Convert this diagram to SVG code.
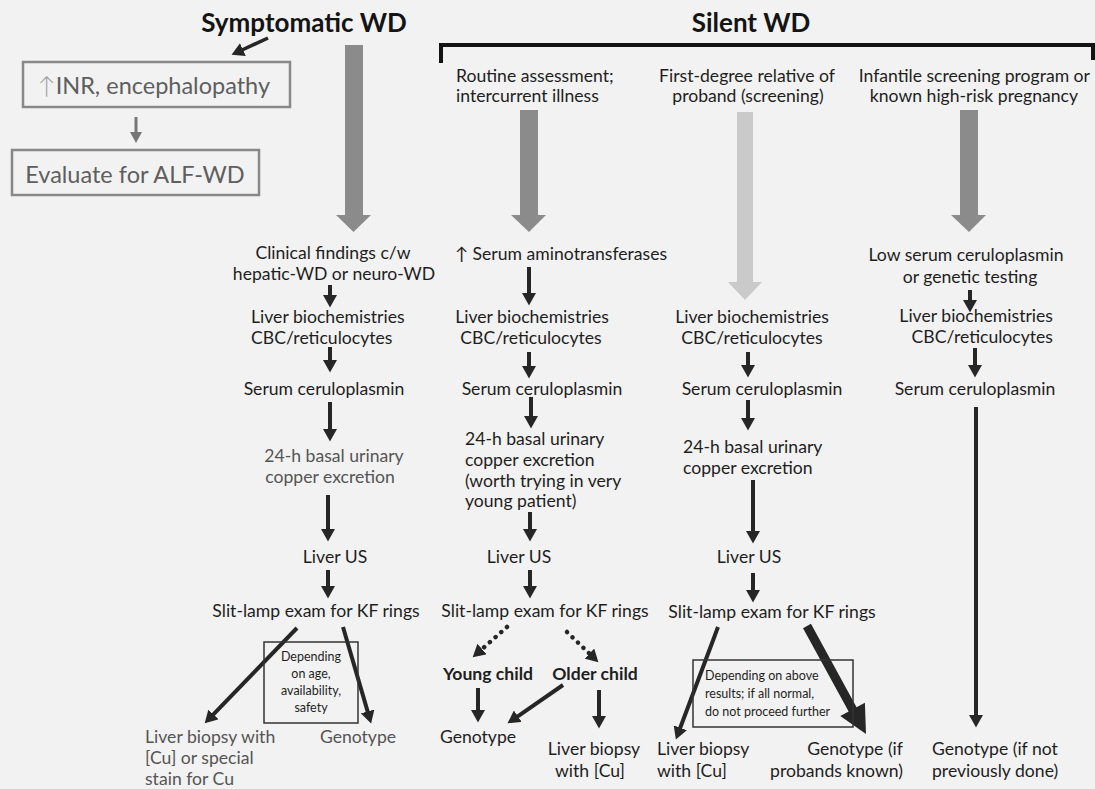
<svg xmlns="http://www.w3.org/2000/svg" width="1095" height="789" viewBox="0 0 1095 789">
<defs>
<style>
text{font-family:Lato,"Liberation Sans",sans-serif;font-size:17.6px;fill:#1e1e1e}
.t{font-size:26px;font-weight:bold;fill:#141414}
.bx{font-size:23.5px;fill:#5e5e5e}
.g{fill:#555}
.b{font-weight:bold}
.sm{font-size:12.5px}
.m{text-anchor:middle}
.e{text-anchor:end}
.ln{stroke:#262626;stroke-width:4;fill:none}
.dot{stroke:#262626;stroke-width:4.5;fill:none;stroke-linecap:round;stroke-dasharray:0.1 7.5}
.big{fill:#8b8b8b}
.light{fill:#cacaca}
.box{fill:none;stroke:#888;stroke-width:2.5}
.nb{fill:none;stroke:#333;stroke-width:1.5}
</style>
<marker id="ah" markerUnits="userSpaceOnUse" markerWidth="13" markerHeight="14" refX="1" refY="7" orient="auto">
<path d="M0,0 L12.5,7 L0,14 z" fill="#262626"/>
</marker>
<marker id="ahg" markerUnits="userSpaceOnUse" markerWidth="12" markerHeight="12" refX="1" refY="6" orient="auto">
<path d="M0,0 L11,6 L0,12 z" fill="#777"/>
</marker>
</defs>
<rect width="1095" height="789" fill="#f2f2f2"/>

<g id="connectors">
<line x1="268" y1="38" x2="242" y2="50" class="ln" style="stroke-width:3.5" marker-end="url(#ah)"/>
<line x1="136" y1="117" x2="136" y2="133" stroke="#777" stroke-width="3" marker-end="url(#ahg)"/>
<path d="M441,63 L441,45 L1093,45 L1093,60" fill="none" stroke="#141414" stroke-width="4"/>
<path class="big" d="M345,45 H363 V215 H371 L353.5,232 L336,215 H345 Z"/>
<path class="big" d="M520,110 H538 V215 H546 L529,232 L511,215 H520 Z"/>
<path class="light" d="M737,112 H753 V282 H762 L745,300 L728,282 H737 Z"/>
<path class="big" d="M960,110 H978 V215 H986 L969,232 L951,215 H960 Z"/>
<line x1="330" y1="285" x2="330" y2="296" class="ln" marker-end="url(#ah)"/>
<line x1="330" y1="347" x2="330" y2="361" class="ln" marker-end="url(#ah)"/>
<line x1="330" y1="402" x2="330" y2="430" class="ln" marker-end="url(#ah)"/>
<line x1="328" y1="495" x2="328" y2="530" class="ln" marker-end="url(#ah)"/>
<line x1="328" y1="570" x2="328" y2="587" class="ln" marker-end="url(#ah)"/>
<line x1="297" y1="628" x2="212.7" y2="715.1" class="ln" marker-end="url(#ah)"/>
<line x1="343" y1="627" x2="367.9" y2="712.4" class="ln" marker-end="url(#ah)"/>
<line x1="529" y1="267" x2="529" y2="294" class="ln" marker-end="url(#ah)"/>
<line x1="529" y1="352" x2="529" y2="367" class="ln" marker-end="url(#ah)"/>
<line x1="531" y1="397" x2="531" y2="417" class="ln" marker-end="url(#ah)"/>
<line x1="530" y1="512" x2="530" y2="530" class="ln" marker-end="url(#ah)"/>
<line x1="530" y1="570" x2="530" y2="587" class="ln" marker-end="url(#ah)"/>
<line x1="507" y1="627" x2="481.3" y2="649.7" class="dot" marker-end="url(#ah)"/>
<line x1="567" y1="632" x2="590.1" y2="654.3" class="dot" marker-end="url(#ah)"/>
<line x1="478" y1="688" x2="478" y2="711" class="ln" marker-end="url(#ah)"/>
<line x1="563" y1="685" x2="517" y2="716.8" class="ln" marker-end="url(#ah)"/>
<line x1="599" y1="690" x2="599" y2="717" class="ln" marker-end="url(#ah)"/>
<line x1="748" y1="352" x2="748" y2="366" class="ln" marker-end="url(#ah)"/>
<line x1="748" y1="400" x2="748" y2="419" class="ln" marker-end="url(#ah)"/>
<line x1="753" y1="480" x2="753" y2="532" class="ln" marker-end="url(#ah)"/>
<line x1="753" y1="573" x2="753" y2="591" class="ln" marker-end="url(#ah)"/>
<line x1="718" y1="627" x2="679.9" y2="728.7" class="ln" marker-end="url(#ah)"/>
<path d="M810.95,623.84 L856.55,707.24 L864.9,702.7 L866,734 L840.3,716.1 L848.65,711.56 L803.05,628.16 Z" fill="#262626"/>
<line x1="970" y1="290" x2="970" y2="301" class="ln" marker-end="url(#ah)"/>
<line x1="975" y1="348" x2="975" y2="366" class="ln" marker-end="url(#ah)"/>
<line x1="976" y1="407" x2="976" y2="716" class="ln" marker-end="url(#ah)"/>
</g>

<g id="title-symptomatic"><text x="304" y="32" class="t m">Symptomatic WD</text></g>
<g id="title-silent"><text x="751" y="32" class="t m">Silent WD</text></g>

<g id="box-inr">
<rect x="23" y="62" width="267" height="45" class="box"/>
<text x="38" y="94" class="bx"><tspan fill="#999" font-weight="300">↑</tspan>INR, encephalopathy</text>
</g>
<g id="box-alf">
<rect x="12" y="150" width="247" height="45" class="box"/>
<text x="135" y="183" class="bx m">Evaluate for ALF-WD</text>
</g>

<g id="c1-clinical"><text x="333" y="259" class="m">Clinical findings c/w</text><text x="334" y="280" class="m">hepatic-WD or neuro-WD</text></g>
<g id="c1-liver"><text x="251" y="323">Liver biochemistries</text><text x="251" y="344">CBC/reticulocytes</text></g>
<g id="c1-cerulo"><text x="324" y="395" class="m">Serum ceruloplasmin</text></g>
<g id="c1-urinary"><text x="334" y="462" class="m g">24-h basal urinary</text><text x="330" y="483" class="m g">copper excretion</text></g>
<g id="c1-us"><text x="335" y="563" class="m">Liver US</text></g>
<g id="c1-slit"><text x="316" y="617" class="m">Slit-lamp exam for KF rings</text></g>
<g id="c1-note">
<rect x="264" y="642" width="94" height="81" class="nb"/>
<text x="311" y="661" class="m sm">Depending</text>
<text x="311" y="678" class="m sm">on age,</text>
<text x="311" y="695" class="m sm">availability,</text>
<text x="311" y="712" class="m sm">safety</text>
</g>
<g id="c1-biopsy"><text x="145" y="743" class="g">Liver biopsy with</text><text x="145" y="764" class="g">[Cu] or special</text><text x="145" y="785" class="g">stain for Cu</text></g>
<g id="c1-genotype"><text x="358" y="743" class="m g">Genotype</text></g>

<g id="c2-head"><text x="456" y="82">Routine assessment;</text><text x="456" y="102">intercurrent illness</text></g>
<g id="c2-amino"><text x="561" y="260" class="m">↑ Serum aminotransferases</text></g>
<g id="c2-liver"><text x="532" y="323" class="m">Liver biochemistries</text><text x="531" y="344" class="m">CBC/reticulocytes</text></g>
<g id="c2-cerulo"><text x="542" y="395" class="m">Serum ceruloplasmin</text></g>
<g id="c2-urinary"><text x="465" y="445">24-h basal urinary</text><text x="465" y="466">copper excretion</text><text x="465" y="487">(worth trying in very</text><text x="465" y="507">young patient)</text></g>
<g id="c2-us"><text x="519" y="563" class="m">Liver US</text></g>
<g id="c2-slit"><text x="545" y="617" class="m">Slit-lamp exam for KF rings</text></g>
<g id="c2-young"><text x="488" y="680" class="m b">Young child</text></g>
<g id="c2-older"><text x="595" y="680" class="m b">Older child</text></g>
<g id="c2-genotype"><text x="478" y="743" class="m">Genotype</text></g>
<g id="c2-biopsy"><text x="594" y="755" class="m">Liver biopsy</text><text x="590" y="777" class="m">with [Cu]</text></g>

<g id="c3-head"><text x="747" y="82" class="m">First-degree relative of</text><text x="748" y="102" class="m">proband (screening)</text></g>
<g id="c3-liver"><text x="752" y="323" class="m">Liver biochemistries</text><text x="752" y="344" class="m">CBC/reticulocytes</text></g>
<g id="c3-cerulo"><text x="762" y="395" class="m">Serum ceruloplasmin</text></g>
<g id="c3-urinary"><text x="683" y="453">24-h basal urinary</text><text x="683" y="474">copper excretion</text></g>
<g id="c3-us"><text x="749" y="563" class="m">Liver US</text></g>
<g id="c3-slit"><text x="772" y="618" class="m">Slit-lamp exam for KF rings</text></g>
<g id="c3-note">
<rect x="693" y="660" width="160" height="67" class="nb"/>
<text x="705" y="680" class="sm">Depending on above</text>
<text x="705" y="698" class="sm">results; if all normal,</text>
<text x="705" y="716" class="sm">do not proceed further</text>
</g>
<g id="c3-biopsy"><text x="657" y="755">Liver biopsy</text><text x="657" y="777">with [Cu]</text></g>
<g id="c3-genotype"><text x="903" y="755" class="e">Genotype (if</text><text x="903" y="777" class="e">probands known)</text></g>

<g id="c4-head"><text x="1090" y="82" class="e">Infantile screening program or</text><text x="1078" y="102" class="e">known high-risk pregnancy</text></g>
<g id="c4-low"><text x="966" y="261" class="m">Low serum ceruloplasmin</text><text x="970" y="283" class="m">or genetic testing</text></g>
<g id="c4-liver"><text x="1053" y="322" class="e">Liver biochemistries</text><text x="1053" y="343" class="e">CBC/reticulocytes</text></g>
<g id="c4-cerulo"><text x="975" y="395" class="m">Serum ceruloplasmin</text></g>
<g id="c4-genotype"><text x="932" y="755">Genotype (if not</text><text x="932" y="777">previously done)</text></g>
</svg>
